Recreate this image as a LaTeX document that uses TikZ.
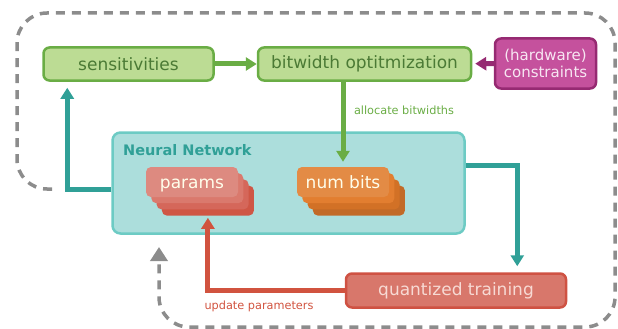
\documentclass[tikz,border=0pt]{standalone}
\usepackage{fontspec}
\setmainfont{DejaVu Sans}
\usepackage{xcolor}
\usetikzlibrary{arrows.meta,calc}

\definecolor{grfill}{HTML}{BCDC94}
\definecolor{grline}{HTML}{6AAD45}
\definecolor{grtext}{HTML}{4B7A35}
\definecolor{pufill}{HTML}{C5519D}
\definecolor{puline}{HTML}{962A72}
\definecolor{putext}{HTML}{F7E6F2}
\definecolor{nnfill}{HTML}{ACDEDC}
\definecolor{nnline}{HTML}{6DCBC4}
\definecolor{teal1}{HTML}{30A097}
\definecolor{pr0}{HTML}{DD8A80}
\definecolor{pr1}{HTML}{DA796D}
\definecolor{pr2}{HTML}{D5675A}
\definecolor{pr3}{HTML}{CF5645}
\definecolor{nb0}{HTML}{E38B45}
\definecolor{nb1}{HTML}{E27E30}
\definecolor{nb2}{HTML}{D27126}
\definecolor{nb3}{HTML}{C26A27}
\definecolor{qtfill}{HTML}{D8776B}
\definecolor{qtline}{HTML}{CF5243}
\definecolor{qttext}{HTML}{F7DAD4}
\definecolor{red1}{HTML}{D1533F}
\definecolor{loopgray}{HTML}{8C8C8C}

\begin{document}
\begin{tikzpicture}[
  x=1pt, y=-1pt,
  box/.style={draw, rounded corners=6pt, line width=2.5pt, minimum height=33pt, align=center, inner sep=2pt, font=\fontsize{17}{20}\selectfont},
  gbox/.style={box, fill=grfill, draw=grline, text=grtext},
  pbox/.style={box, fill=pufill, draw=puline, text=putext, font=\fontsize{15}{17}\selectfont},
  nnbox/.style={draw=nnline, fill=nnfill, rounded corners=8pt, line width=2.5pt, inner sep=0pt},
  qbox/.style={box, fill=qtfill, draw=qtline, text=qttext},
  layer/.style={rounded corners=5pt, minimum width=92pt, minimum height=30pt, inner sep=0pt, text height=12pt, text depth=0pt, font=\fontsize{17}{20}\selectfont, text=white!92!yellow},
  small/.style={font=\fontsize{11.3}{13}\selectfont, inner sep=0pt},
  arr/.style={-{Triangle[width=13pt,length=11pt]}, line width=5pt},
  garr/.style={arr, draw=grline},
  parr/.style={arr, draw=puline},
  tarr/.style={arr, draw=teal1},
  rarr/.style={arr, draw=red1},
  loopline/.style={draw=loopgray, line width=3.5pt, dash pattern=on 9pt off 7pt, rounded corners=30pt, -{Triangle[width=17pt,length=14pt]}}]
  \useasboundingbox (0,0) rectangle (618,329);
  % --- top row ---
  \node[gbox, minimum width=170pt] (sens)   at (128.5,64) {sensitivities};
  \node[gbox, minimum width=213pt] (bitopt) at (364.5,64) {bitwidth optitmization};
  \node[pbox, minimum width=101pt, minimum height=50pt] (constr) at (545.5,63.5) {(hardware)\\constraints};
  % --- network ---
  \node[nnbox, minimum width=352pt, minimum height=101pt] (nn) at (288.5,183) {};
  \node[anchor=west, inner sep=0pt, text=teal1, font=\fontsize{14.5}{17}\selectfont\bfseries] (nntitle) at (123,150) {Neural Network};
  \foreach \i in {3,2,1} {
    \node[layer, fill=pr\i] (params\i)  at (192+5.3*\i,182+6.2*\i) {};
    \node[layer, fill=nb\i] (numbits\i) at (343+5.3*\i,182+6.2*\i) {};
  }
  \node[layer, fill=pr0] (params)  at (192,182) {params};
  \node[layer, fill=nb0] (numbits) at (343,182) {num bits};
  % --- training ---
  \node[qbox, minimum width=220pt, minimum height=34pt] (qtrain) at (456,290.5) {quantized training};
  % --- labels ---
  \node[small, text=grline] (alloc)  at (404,110) {allocate bitwidths};
  \node[small, text=red1]   (updlbl) at (259,306) {update parameters};
  % --- outer loop ---
  \coordinate (loopstart) at (52,189);
  \coordinate (loopend)   at (159,247);
  \draw[loopline] (loopstart) -- (17,189) -- (17,13) -- (615,13) -- (615,327) -- (159,327) -- (loopend);
  % --- arrows ---
  \draw[garr] (sens) -- (bitopt);
  \draw[parr, shorten >=3pt] (constr) -- (bitopt);
  \draw[garr, shorten >=5pt] (bitopt.south -| numbits) -- (numbits.north);
  \draw[tarr, shorten >=6pt] ([yshift=-6.5pt]nn.west) -| ([xshift=25pt]sens.south west);
  \draw[tarr, shorten >=6pt] ([yshift=18pt]nn.east) -| ([xshift=-50pt]qtrain.north east);
  \draw[rarr, shorten >=2pt] (qtrain.west) -| (params3.south);
\end{tikzpicture}
\end{document}
